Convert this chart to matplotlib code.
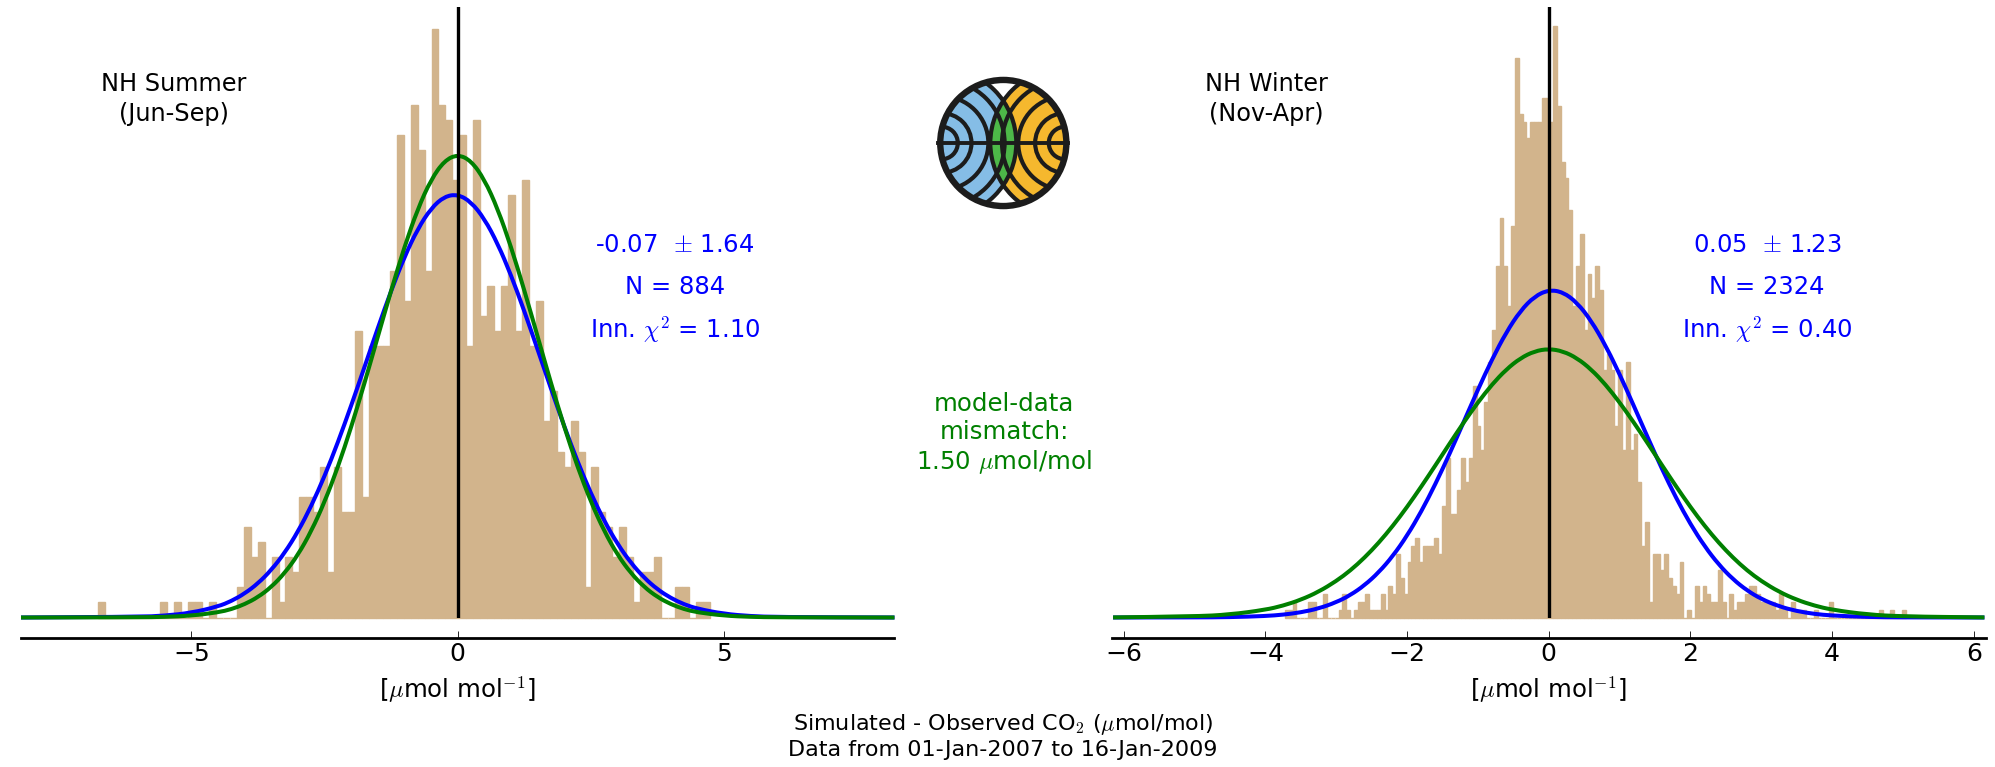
import numpy as np
import matplotlib
matplotlib.use('Agg')
import matplotlib.pyplot as plt
from matplotlib.patches import Circle, PathPatch
from matplotlib.path import Path

plt.rcParams['font.family'] = 'DejaVu Sans'
plt.rcParams['font.size'] = 17.5
plt.rcParams['mathtext.fontset'] = 'cm'

W, H = 1995, 767

# counts per bin
summer_counts = [1, 0, 0, 0, 0, 0, 0, 0, 0, 1, 0, 1, 0, 1, 1, 0, 1, 0, 0, 0,
                 2, 6, 4, 5, 0, 4, 1, 4, 3, 8, 8, 7, 10, 3, 10, 7, 7, 19, 8, 18,
                 18, 18, 23, 32, 21, 34, 31, 23, 39, 34, 33, 29, 32, 18, 33, 20, 22, 19, 22, 28,
                 19, 29, 18, 21, 13, 15, 11, 10, 13, 11, 2, 10, 7, 6, 4, 6, 4, 1, 3, 3,
                 4, 0, 0, 2, 2, 0, 1, 1]
summer_range = (-6.76, 4.73)

winter_counts = [1, 1, 2, 0, 0, 0, 2, 2, 0, 0, 3, 0, 0, 0, 1, 3, 1, 0, 1, 2,
                 2, 3, 1, 1, 1, 3, 1, 4, 3, 8, 5, 3, 7, 9, 10, 7, 9, 9, 9, 10,
                 8, 14, 20, 13, 13, 16, 20, 17, 20, 29, 24, 21, 27, 32, 36, 44, 50, 44, 39, 49,
                 70, 63, 62, 60, 62, 62, 62, 65, 65, 62,
                 74, 64, 57, 55, 51, 39, 44, 48, 36, 43, 40, 44, 41, 31, 33, 31, 24, 31, 21, 32,
                 21, 23, 17, 9, 12, 2, 8, 8, 6, 8, 5, 4, 3, 7, 0, 1, 0, 4, 2, 4,
                 3, 2, 2, 6, 2, 0, 3, 1, 2, 2, 3, 4, 4, 3, 2, 2, 2, 2, 1, 3,
                 1, 0, 2, 1, 1, 1, 0, 0, 1, 0, 0, 0, 2, 0, 0, 0, 0, 0, 0, 0,
                 0, 0, 0, 0, 0, 1, 0, 0, 1, 0, 0, 1]
winter_range = (-3.725, 5.04)

# the two curves of each panel, read at these x values
summer_x = [-8.2, -6, -5.5, -5, -4.5, -4.25, -4, -3.75, -3.5, -3.25, -3, -2.75, -2.5, -2.25, -2, -1.75, -1.5, -1.25,
            -1, -0.75, -0.5, -0.25, 0, 0.25, 0.5, 0.75, 1, 1.25, 1.5, 1.75, 2, 2.25, 2.5, 2.75,
            3, 3.25, 3.5, 3.75, 4, 4.25, 4.5, 5, 5.5, 6, 8.2]
summer_blue = [0, 0.04, 0.12, 0.31, 0.73, 1.09, 1.59, 2.26, 3.15, 4.28, 5.69, 7.39, 9.37, 11.61, 14.05, 16.61, 19.2, 21.67,
               23.91, 25.77, 27.13, 27.91, 28.05, 27.55, 26.43, 24.78, 22.7, 20.31, 17.76, 15.17, 12.66, 10.33, 8.22, 6.4,
               4.87, 3.62, 2.63, 1.86, 1.29, 0.87, 0.58, 0.24, 0.09, 0.03, 0]
summer_green = [0, 0.01, 0.04, 0.12, 0.34, 0.55, 0.88, 1.35, 2.02, 2.94, 4.15, 5.72, 7.66, 9.97, 12.62, 15.54, 18.62, 21.69,
                24.58, 27.09, 29.04, 30.28, 30.7, 30.28, 29.04, 27.09, 24.58, 21.69, 18.62, 15.54, 12.62, 9.97, 7.66, 5.72,
                4.15, 2.94, 2.02, 1.35, 0.88, 0.55, 0.34, 0.12, 0.04, 0.01, 0]

winter_x = [-6.15, -5, -4.5, -4, -3.75, -3.5, -3.25, -3, -2.8, -2.6, -2.4, -2.2, -2, -1.8, -1.6, -1.4, -1.2, -1,
            -0.8, -0.6, -0.4, -0.2, 0, 0.2, 0.4, 0.6, 0.8, 1, 1.2, 1.4, 1.6, 1.8, 2, 2.2,
            2.4, 2.6, 2.8, 3, 3.25, 3.5, 3.75, 4, 4.5, 5, 6.15]
winter_blue = [0, 0.01, 0.04, 0.18, 0.35, 0.64, 1.12, 1.9, 2.8, 4.03, 5.64, 7.69, 10.22, 13.23, 16.68, 20.46, 24.47, 28.49,
               32.29, 35.66, 38.35, 40.16, 40.97, 40.7, 39.37, 37.1, 34.05, 30.43, 26.48, 22.45, 18.53, 14.9, 11.67, 8.9,
               6.61, 4.78, 3.37, 2.31, 1.39, 0.8, 0.44, 0.24, 0.06, 0.01, 0]
winter_green = [0.01, 0.13, 0.37, 0.96, 1.48, 2.21, 3.21, 4.55, 5.88, 7.48, 9.34, 11.46, 13.81, 16.36, 19.02, 21.74, 24.4, 26.9,
                29.15, 31.02, 32.43, 33.3, 33.6, 33.3, 32.43, 31.02, 29.15, 26.9, 24.4, 21.74, 19.02, 16.36, 13.81, 11.46,
                9.34, 7.48, 5.88, 4.55, 3.21, 2.21, 1.48, 0.96, 0.37, 0.13, 0.01]

summer_stats = ['-0.07  $\\pm$ 1.64', 'N = 884', 'Inn. $\\chi^2$ = 1.10']
winter_stats = ['0.05  $\\pm$ 1.23', 'N = 2324', 'Inn. $\\chi^2$ = 0.40']


def px_axes(fig, x0, x1, ytop, ybot):
    return fig.add_axes([x0 / W, 1 - ybot / H, (x1 - x0) / W, (ybot - ytop) / H])


def put(fig, x, y, s, **kw):
    fig.text(x / W, 1 - y / H, s, ha='center', va='center', **kw)


def smooth_line(ax, xs, ys, color, zorder):
    # rounds the corners between the read points with quadratic segments
    pts = np.column_stack([xs, ys])
    verts = [pts[0]]
    codes = [Path.MOVETO]
    for a, b in zip(pts[1:-1], pts[2:]):
        verts += [a, (a + b) / 2]
        codes += [Path.CURVE3, Path.CURVE3]
    verts.append(pts[-1])
    codes.append(Path.LINETO)
    ax.add_patch(PathPatch(Path(verts, codes), fc='none', ec=color, lw=2.9, clip_on=False,
                           capstyle='butt', zorder=zorder))


def panel(ax, counts, hrange, xs, blue, green, xlim, ymax, ticks):
    counts = np.array(counts, dtype=float)
    edges = np.linspace(hrange[0], hrange[1], len(counts) + 1)
    centers = 0.5 * (edges[:-1] + edges[1:])
    ax.hist(centers, bins=edges, weights=counts, color='tan', edgecolor='tan',
            linewidth=1.0, clip_on=False, zorder=1)
    smooth_line(ax, xs, blue, 'blue', 3)
    smooth_line(ax, xs, green, 'green', 4)
    ax.axvline(0, color='black', lw=2.4, zorder=5)
    ax.set_xlim(-xlim, xlim)
    ax.set_ylim(0, ymax)
    ax.set_yticks([])
    ax.set_xticks(ticks)
    for s in ['left', 'right', 'top']:
        ax.spines[s].set_visible(False)
    ax.spines['bottom'].set_position(('outward', 14.4))
    ax.spines['bottom'].set_linewidth(2)
    ax.tick_params(axis='x', direction='in', length=5.3, width=0.6, pad=3, labelsize=18)
    ax.set_xlabel('[$\\mu$mol mol$^{-1}$]', fontsize=17.6, labelpad=6.5)
    ax.patch.set_visible(False)


def draw_logo(fig, cx, cy, r):
    pad = 1.08
    ax = px_axes(fig, cx - r * pad, cx + r * pad, cy - r * pad, cy + r * pad)
    ax.set_xlim(-pad, pad)
    ax.set_ylim(-pad, pad)
    ax.axis('off')
    ink = '#1c1c1c'
    clip = Circle((0, 0), 1, transform=ax.transData)
    left = Circle((-0.95, 0), 1.15, fc='#85BDE6', ec='none')
    right = Circle((0.95, 0), 1.15, fc='#F5B82E', ec='none')
    lens = Circle((-0.95, 0), 1.15, fc='#4DB848', ec='none', zorder=2)
    ax.add_patch(left)
    ax.add_patch(right)
    ax.add_patch(lens)
    left.set_clip_path(clip)
    right.set_clip_path(clip)
    lens.set_clip_path(Circle((0.95, 0), 1.15, transform=ax.transData))
    for side in [-0.95, 0.95]:
        for rad in [0.25, 0.46, 0.72, 0.97, 1.15]:
            arc = Circle((side, 0), rad, fc='none', ec=ink, lw=3.0, zorder=3)
            ax.add_patch(arc)
            arc.set_clip_path(clip)
    ax.plot([-1, 1], [0, 0], color=ink, lw=2.8, zorder=4)
    ax.add_patch(Circle((0, 0), 0.97, fc='none', ec=ink, lw=4.6, zorder=5))


fig = plt.figure(figsize=(W / 100, H / 100), dpi=100, facecolor='white')

ax1 = px_axes(fig, 21, 894.5, 6.5, 617.5)
panel(ax1, summer_counts, summer_range, summer_x, summer_blue, summer_green, 8.2, 40.5, [-5, 0, 5])

ax2 = px_axes(fig, 1112, 1985.5, 6.5, 617.5)
panel(ax2, winter_counts, winter_range, winter_x, winter_blue, winter_green, 6.165, 76.4, [-6, -4, -2, 0, 2, 4, 6])

put(fig, 174, 99, 'NH Summer\n(Jun-Sep)', fontsize=17.3, linespacing=1.3)
put(fig, 1266, 99, 'NH Winter\n(Nov-Apr)', fontsize=17.3, linespacing=1.3)

for y, a, b in zip([245, 287.5, 329.5], summer_stats, winter_stats):
    put(fig, 675, y, a, fontsize=17.5, color='blue')
    put(fig, 1767, y, b, fontsize=17.5, color='blue')

put(fig, 1004, 434, 'model-data\nmismatch:\n1.50 $\\mu$mol/mol', fontsize=17.6, color='green', linespacing=1.2)
put(fig, 1003, 736, 'Simulated - Observed CO$_2$ ($\\mu$mol/mol)\nData from 01-Jan-2007 to 16-Jan-2009', fontsize=16,
    linespacing=1.2)

draw_logo(fig, 1003.3, 143, 65)

fig.savefig('out.png', dpi=100, facecolor='white')
